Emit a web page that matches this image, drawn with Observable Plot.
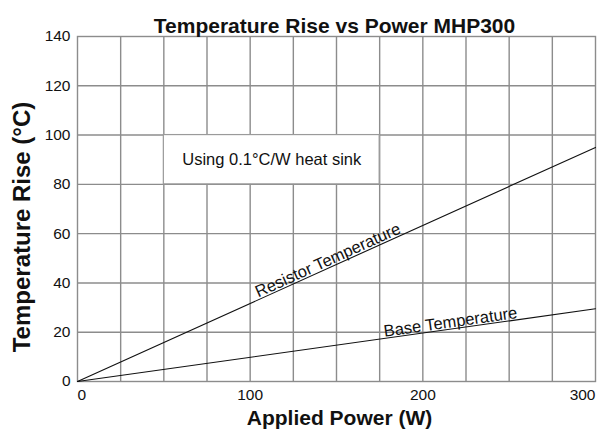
<!DOCTYPE html>
<html>
<head>
<meta charset="utf-8">
<script src="https://cdn.jsdelivr.net/npm/d3@7"></script>
<script src="https://cdn.jsdelivr.net/npm/@observablehq/plot@0.6"></script>
<style>
  html, body { margin: 0; padding: 0; background: #fff; }
  #chart svg { font-family: "Liberation Sans", Arial, Helvetica, sans-serif; }
</style>
</head>
<body>
<div id="chart"></div>
<script>
// Data
const power = [0, 300];
const resistorTemp = [0, 95];
const baseTemp = [0, 29.5];

const xTicksMid = [100, 200];
const xTickFirst = [0];
const xTickLast = [300];
const xGrid = [25, 50, 75, 100, 125, 150, 175, 200, 225, 250, 275];
const yTicks = [0, 20, 40, 60, 80, 100, 120, 140];
const yGrid = [20, 40, 60, 80, 100, 120];

const title = "Temperature Rise vs Power MHP300";
const xLabel = "Applied Power (W)";
const yLabel = "Temperature Rise (°C)";

// annotation box (data units)
const noteText = ["Using 0.1°C/W heat sink"];
const noteX = [50, 175];
const noteY = [80, 100];

// line labels
const seriesNames = ["Resistor Temperature", "Base Temperature"];
const labelX = [145, 216];

const resistor = power.map((p, i) => ({power: p, temp: resistorTemp[i]}));
const base = power.map((p, i) => ({power: p, temp: baseTemp[i]}));
const slopeR = resistorTemp[1] / power[1];
const slopeB = baseTemp[1] / power[1];

const W = 600, H = 437, mL = 77, mR = 5, mT = 36, mB = 56;
const pxX = (W - mL - mR) / 300, pxY = (H - mT - mB) / 140;
const angR = -Math.atan(slopeR * pxY / pxX) * 180 / Math.PI;
const angB = -Math.atan(slopeB * pxY / pxX) * 180 / Math.PI;

const grey = "#8c8c8c";
const ink = "#111";
const tickFont = 15.5;

const chart = Plot.plot({
  width: W, height: H,
  marginLeft: mL, marginRight: mR, marginTop: mT, marginBottom: mB,
  x: {domain: [0, 300]},
  y: {domain: [0, 140]},
  style: {fontFamily: "Liberation Sans, Arial, sans-serif", color: ink},
  marks: [
    Plot.gridX(xGrid, {stroke: grey, strokeOpacity: 1, strokeWidth: 1.4}),
    Plot.gridY(yGrid, {stroke: grey, strokeOpacity: 1, strokeWidth: 1.4}),
    Plot.frame({stroke: grey, strokeWidth: 1.4}),
    Plot.rect([0], {x1: () => noteX[0], x2: () => noteX[1], y1: () => noteY[0], y2: () => noteY[1],
      fill: "white", stroke: "#9a9a9a", strokeWidth: 1.2}),
    Plot.text(noteText, {x: () => (noteX[0] + noteX[1]) / 2, y: () => (noteY[0] + noteY[1]) / 2,
      text: d => d, fontSize: 16.5, fill: ink}),
    Plot.line(resistor, {x: "power", y: "temp", stroke: ink, strokeWidth: 1.1}),
    Plot.line(base, {x: "power", y: "temp", stroke: ink, strokeWidth: 1.1}),
    Plot.text([seriesNames[0]], {x: () => labelX[0], y: () => labelX[0] * slopeR, text: d => d,
      rotate: angR, dy: -8, fontSize: 16.5, fill: ink}),
    Plot.text([seriesNames[1]], {x: () => labelX[1], y: () => labelX[1] * slopeB, text: d => d,
      rotate: angB, dy: -7, fontSize: 16.5, fill: ink}),
    Plot.axisX(xTicksMid, {tickSize: 0, tickPadding: 7, fontSize: tickFont, label: null, fill: ink}),
    Plot.axisX(xTickFirst, {tickSize: 0, tickPadding: 7, fontSize: tickFont, label: null, fill: ink, textAnchor: "start"}),
    Plot.axisX(xTickLast, {tickSize: 0, tickPadding: 7, fontSize: tickFont, label: null, fill: ink, textAnchor: "end"}),
    Plot.axisY(yTicks, {tickSize: 0, tickPadding: 7, fontSize: tickFont, label: null, fill: ink}),
    Plot.text([title], {frameAnchor: "top", textAnchor: "middle", dx: -2, dy: -18, text: d => d, fontSize: 21, fontWeight: "bold", fill: ink}),
    Plot.text([xLabel], {frameAnchor: "bottom", textAnchor: "middle", dx: 3, dy: 43, text: d => d, fontSize: 21, fontWeight: "bold", fill: ink}),
    Plot.text([yLabel], {frameAnchor: "left", textAnchor: "middle", dx: -55, dy: 18, rotate: -90, text: d => d, fontSize: 24, fontWeight: "bold", fill: ink})
  ]
});
document.getElementById("chart").appendChild(chart);
</script>
</body>
</html>
